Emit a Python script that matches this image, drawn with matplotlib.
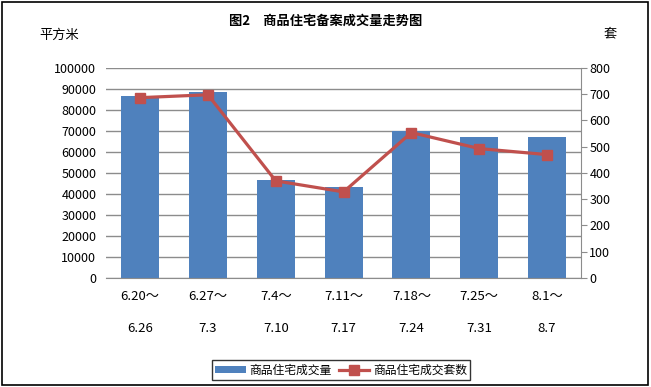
import matplotlib
matplotlib.use("Agg")
import matplotlib.pyplot as plt
import matplotlib.transforms as mtransforms
from matplotlib.patches import Rectangle

plt.rcParams['font.family'] = ['Noto Sans CJK SC', 'DejaVu Sans']

start_labels = ["6.20～", "6.27～", "7.4～", "7.11～", "7.18～", "7.25～", "8.1～"]
end_labels = ["6.26", "7.3", "7.10", "7.17", "7.24", "7.31", "8.7"]
area = [86700, 88600, 46800, 43300, 70000, 67200, 67200]
units = [687, 698, 370, 328, 554, 493, 470]

bar_color = "#4F81BD"
line_color = "#C0504D"

fig = plt.figure(figsize=(6.51, 3.87), dpi=100)
fig.patches.append(Rectangle((0.003, 0.005), 0.992, 0.99, transform=fig.transFigure,
                             fill=False, edgecolor="black", linewidth=1.2))

ax = fig.add_axes([0.163, 0.2817, 0.7295, 0.5426])
x = list(range(len(area)))
ax.bar(x, area, width=0.56, color=bar_color, zorder=2, label="商品住宅成交量")
ax.set_ylim(0, 100000)
ax.set_xlim(-0.5, len(area) - 0.5)
ax.set_yticks(range(0, 100001, 10000))
ax.yaxis.grid(True, color="#8c8c8c", linewidth=1.0, zorder=0)
ax.set_axisbelow(True)
for s in ["top", "right", "left"]:
    ax.spines[s].set_visible(False)
ax.spines["bottom"].set_color("#8c8c8c")
ax.tick_params(axis="y", length=0, labelsize=9, pad=7)
ax.tick_params(axis="x", length=0, labelbottom=False)

ax2 = ax.twinx()
ax2.plot(x, units, color=line_color, linewidth=2.3, marker="s", markersize=7,
         label="商品住宅成交套数", zorder=3)
ax2.set_ylim(0, 800)
ax2.set_yticks(range(0, 801, 100))
for s in ["top", "left", "bottom"]:
    ax2.spines[s].set_visible(False)
ax2.spines["right"].set_color("#8c8c8c")
ax2.tick_params(axis="y", length=4, color="#8c8c8c", labelsize=9, pad=2)

trans = mtransforms.blended_transform_factory(ax.transData, fig.transFigure)
for i in x:
    ax.text(i, 1 - 297 / 387, start_labels[i], transform=trans, ha="center", va="center", fontsize=9.5)
    ax.text(i, 1 - 328 / 387, end_labels[i], transform=trans, ha="center", va="center", fontsize=9.5)

fig.text(0.5, 1 - 21 / 387, "图2　商品住宅备案成交量走势图", ha="center", va="center",
         fontsize=9.5, fontweight="bold")
fig.text(39 / 651, 1 - 35 / 387, "平方米", ha="left", va="center", fontsize=9.5)
fig.text(610 / 651, 1 - 34 / 387, "套", ha="center", va="center", fontsize=9.5)

h1, l1 = ax.get_legend_handles_labels()
h2, l2 = ax2.get_legend_handles_labels()
leg = fig.legend(h1 + h2, l1 + l2, loc="center", bbox_to_anchor=(341 / 651, 1 - 370 / 387),
                 ncol=2, fontsize=8.5, frameon=True, fancybox=False, edgecolor="black",
                 handlelength=2.6, handleheight=0.5, columnspacing=0.6, handletextpad=0.3,
                 borderpad=0.3, borderaxespad=0)
leg.get_frame().set_linewidth(1.0)

fig.savefig("out.png", dpi=100)
